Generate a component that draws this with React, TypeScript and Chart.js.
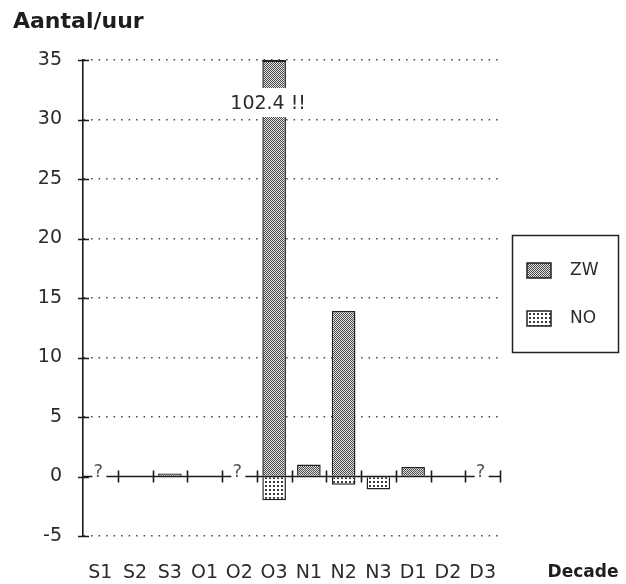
import { useEffect, useRef } from "react";
import { Chart, registerables } from "chart.js";

Chart.register(...registerables);

// ---- data ----
const categories = ["S1", "S2", "S3", "O1", "O2", "O3", "N1", "N2", "N3", "D1", "D2", "D3"];
const seriesLabels = ["ZW", "NO"];
const zwValues: (number | null)[] = [null, 0, 0.25, 0, null, 102.4, 1.0, 13.9, 0, 0.8, 0, null];
const noValues: (number | null)[] = [null, 0, 0, 0, null, -2.0, 0, -0.7, -1.1, 0, 0, null];
const yMin = -5;
const yMax = 35;
const yStep = 5;
const yTitle = "Aantal/uur";
const xTitle = "Decade";
const missingMark = "?";
const overflowSuffix = " !!";

const TICK_FONT = { family: "'DejaVu Sans', sans-serif", size: 19 };
const INK = "#2b2b2b";

function makePattern(kind: "dense" | "light"): CanvasPattern | string {
  const c = document.createElement("canvas");
  const size = 4;
  c.width = size;
  c.height = size;
  const g = c.getContext("2d");
  if (!g) return "#999";
  if (kind === "dense") {
    g.fillStyle = "#e2e2e2";
    g.fillRect(0, 0, size, size);
    g.fillStyle = "#4a4a4a";
    for (let yy = 0; yy < size; yy++) {
      for (let xx = 0; xx < size; xx++) {
        if ((xx + yy) % 2 === 0) g.fillRect(xx, yy, 1, 1);
      }
    }
  } else {
    g.fillStyle = "#ffffff";
    g.fillRect(0, 0, size, size);
    g.fillStyle = "#3a3a3a";
    g.fillRect(1, 1, 2, 2);
  }
  const p = g.createPattern(c, "repeat");
  return p || "#999";
}

const decoPlugin = {
  id: "deco",
  afterDatasetsDraw(chart: any) {
    const { ctx, chartArea: ca, scales } = chart;
    const x = scales.x;
    const y = scales.y;
    const y0 = y.getPixelForValue(0);
    const n = categories.length;
    const cw = (ca.right - ca.left) / n;
    ctx.save();
    ctx.strokeStyle = "#1a1a1a";
    ctx.lineWidth = 1.6;
    ctx.beginPath();
    ctx.moveTo(ca.left, y0);
    ctx.lineTo(ca.right, y0);
    for (let i = 1; i <= n; i++) {
      const xx = Math.round(ca.left + i * cw) + 0.5;
      ctx.moveTo(xx, y0 - 6);
      ctx.lineTo(xx, y0 + 6);
    }
    for (let v = yMin; v <= yMax; v += yStep) {
      const yy = Math.round(y.getPixelForValue(v)) + 0.5;
      ctx.moveTo(ca.left - 5, yy);
      ctx.lineTo(ca.left + 6, yy);
    }
    ctx.stroke();

    // missing markers
    ctx.font = "18px 'DejaVu Sans', sans-serif";
    ctx.textAlign = "center";
    ctx.textBaseline = "middle";
    categories.forEach((_, i) => {
      if (zwValues[i] === null) {
        const cx = x.getPixelForValue(i);
        ctx.fillStyle = "#ffffff";
        ctx.fillRect(cx - 8, y0 - 3, 14, 6);
        ctx.fillStyle = "#555";
        ctx.fillText(missingMark, cx - 2, y0 - 4);
      }
    });

    // overflow labels
    const meta = chart.getDatasetMeta(0);
    zwValues.forEach((v, i) => {
      if (v !== null && v > yMax) {
        const bar = meta.data[i];
        // top edge of clipped bar
        ctx.strokeStyle = "#222";
        ctx.lineWidth = 2;
        ctx.beginPath();
        ctx.moveTo(bar.x - bar.width / 2, ca.top + 1);
        ctx.lineTo(bar.x + bar.width / 2, ca.top + 1);
        ctx.stroke();
        const label = `${v}${overflowSuffix}`;
        ctx.font = "19px 'DejaVu Sans', sans-serif";
        const tw = ctx.measureText(label).width;
        const cx = bar.x - 6;
        const cy = y.getPixelForValue(31.3);
        ctx.fillStyle = "#ffffff";
        ctx.fillRect(cx - tw / 2 - 2, cy - 16, tw + 4, 29);
        ctx.fillStyle = INK;
        ctx.textAlign = "center";
        ctx.textBaseline = "middle";
        ctx.fillText(label, cx, cy);
      }
    });
    ctx.restore();
  },
  afterDraw(chart: any) {
    const { ctx, chartArea: ca } = chart;
    ctx.save();
    // axis titles
    ctx.fillStyle = "#1e1e1e";
    ctx.textBaseline = "middle";
    ctx.textAlign = "left";
    ctx.font = "bold 22px 'DejaVu Sans', sans-serif";
    ctx.fillText(yTitle, 13, 22);
    ctx.textAlign = "center";
    ctx.font = "bold 17px 'DejaVu Sans', sans-serif";
    ctx.fillText(xTitle, ca.right + 83, ca.bottom + 37);

    // legend
    const lx = ca.right + 12;
    const ly = ca.top + 175;
    const lw = 106;
    const lh = 117;
    ctx.lineWidth = 1.5;
    ctx.strokeStyle = "#222";
    ctx.strokeRect(lx + 0.5, ly + 0.5, lw, lh);
    chart.data.datasets.forEach((ds: any, i: number) => {
      const sy = ly + 28 + i * 48;
      ctx.fillStyle = ds.backgroundColor;
      ctx.fillRect(lx + 15, sy, 24, 15);
      ctx.lineWidth = 1.5;
      ctx.strokeStyle = "#222";
      ctx.strokeRect(lx + 15, sy, 24, 15);
      ctx.fillStyle = INK;
      ctx.font = "17px 'DejaVu Sans', sans-serif";
      ctx.textAlign = "left";
      ctx.textBaseline = "middle";
      ctx.fillText(ds.label, lx + 58, sy + 8);
    });
    ctx.restore();
  },
};

export default function App() {
  const ref = useRef<HTMLCanvasElement | null>(null);
  useEffect(() => {
    if (!ref.current) return;
    const chart = new Chart(ref.current, {
      type: "bar",
      data: {
        labels: categories,
        datasets: [
          {
            label: seriesLabels[0],
            data: zwValues,
            backgroundColor: makePattern("dense") as any,
            borderColor: "#222",
            borderWidth: 1.5,
            categoryPercentage: 1,
            barPercentage: 0.68,
          },
          {
            label: seriesLabels[1],
            data: noValues,
            backgroundColor: makePattern("light") as any,
            borderColor: "#222",
            borderWidth: 1.5,
            categoryPercentage: 1,
            barPercentage: 0.68,
          },
        ],
      },
      options: {
        animation: false,
        responsive: true,
        maintainAspectRatio: false,
        layout: { padding: { top: 60, left: 0, right: 126, bottom: 0 } },
        plugins: { legend: { display: false }, tooltip: { enabled: false } },
        scales: {
          x: {
            stacked: true,
            offset: true,
            grid: { display: false, drawTicks: false },
            border: { display: false },
            ticks: { font: TICK_FONT, color: INK, padding: 26, autoSkip: false, maxRotation: 0, minRotation: 0 },
            afterFit(s: any) {
              s.height = 48;
            },
          },
          y: {
            stacked: true,
            min: yMin,
            max: yMax,
            ticks: { stepSize: yStep, font: TICK_FONT, color: INK, padding: 21 },
            grid: {
              drawTicks: false,
              lineWidth: 1.5,
              color: (c: any) => (c.tick && c.tick.value === 0 ? "rgba(0,0,0,0)" : "#444"),
            },
            border: { display: true, color: "#1a1a1a", width: 1.6, dash: [1.5, 6] },
            afterFit(s: any) {
              s.width = 83;
            },
          },
        },
      },
      plugins: [decoPlugin],
    });
    return () => chart.destroy();
  }, []);
  return (
    <div style={{ position: "fixed", left: 0, top: 0, width: 626, height: 584, background: "#fff" }}>
      <canvas ref={ref} />
    </div>
  );
}
